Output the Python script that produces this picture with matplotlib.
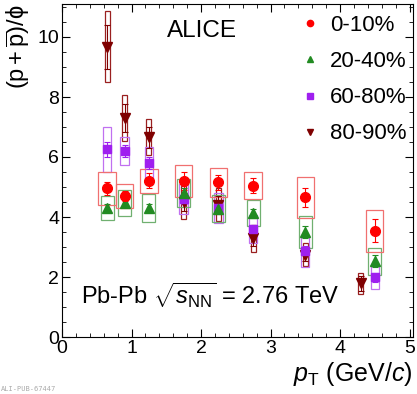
import numpy as np
import matplotlib
matplotlib.use("Agg")
import matplotlib.pyplot as plt
from matplotlib.lines import Line2D
from matplotlib.ticker import MultipleLocator

plt.rcParams['font.family'] = ['Liberation Sans', 'DejaVu Sans']
plt.rcParams['mathtext.fontset'] = 'custom'
plt.rcParams['mathtext.rm'] = 'Liberation Sans'
plt.rcParams['mathtext.it'] = 'Liberation Sans:italic'
plt.rcParams['mathtext.bf'] = 'Liberation Sans:bold'

# data
pt = [0.65, 0.9, 1.25, 1.75, 2.25, 2.75, 3.5, 4.5]
pt_8090 = [0.65, 0.9, 1.25, 1.75, 2.25, 2.75, 3.5, 4.3]

r_0010 = [4.95, 4.7, 5.2, 5.2, 5.15, 5.05, 4.65, 3.55]
stat_0010 = [0.22, 0.17, 0.25, 0.3, 0.25, 0.25, 0.32, 0.38]
sys_0010 = [0.55, 0.4, 0.4, 0.53, 0.48, 0.45, 0.67, 0.7]

r_2040 = [4.3, 4.47, 4.3, 4.8, 4.27, 4.13, 3.5, 2.53]
stat_2040 = [0.12, 0.12, 0.12, 0.15, 0.15, 0.15, 0.2, 0.2]
sys_2040 = [0.4, 0.43, 0.48, 0.47, 0.45, 0.42, 0.52, 0.45]

r_6080 = [6.25, 6.2, 5.8, 4.6, 4.3, 3.6, 2.87, 2.0]
stat_6080 = [0.25, 0.2, 0.2, 0.15, 0.15, 0.15, 0.15, 0.15]
sys_6080 = [0.75, 0.48, 0.52, 0.5, 0.5, 0.45, 0.53, 0.4]

r_8090 = [9.67, 7.3, 6.65, 4.5, 4.4, 3.3, 2.75, 1.8]
stat_8090 = [0.72, 0.45, 0.35, 0.3, 0.3, 0.25, 0.2, 0.25]
sys_8090 = [1.18, 0.77, 0.6, 0.55, 0.55, 0.45, 0.37, 0.35]

labels = ["0-10%", "20-40%", "60-80%", "80-90%"]

fig = plt.figure(figsize=(4.17, 3.94), dpi=100)
ax = fig.add_axes([62/417, 57/394, 351/417, 333/394])

# (x, y, stat, sys, colour, box colour, marker, size, box half width)
series = [
    (pt_8090, r_8090, stat_8090, sys_8090, '#7f0000', '#9a2020', 'v', 6.5, 0.035),
    (pt, r_6080, stat_6080, sys_6080, '#9f1fef', '#c070f0', 's', 6, 0.06),
    (pt, r_2040, stat_2040, sys_2040, '#228b22', '#70b070', '^', 6.5, 0.095),
    (pt, r_0010, stat_0010, sys_0010, '#ff0000', '#f07070', 'o', 7, 0.125),
]

for x, y, st, sy, c, bc, m, ms, hw in series:
    x = np.array(x)
    y = np.array(y)
    sy = np.array(sy)
    ax.bar(x, 2*sy, width=2*hw, bottom=y-sy, fill=False, edgecolor=bc, linewidth=0.9)
    ax.errorbar(x, y, yerr=st, fmt=m, color=c, ms=ms, capsize=2.5, elinewidth=0.8, capthick=0.8)

ax.set_xlim(0, 5.05)
ax.set_ylim(0, 11.1)
ax.xaxis.set_major_locator(MultipleLocator(1))
ax.xaxis.set_minor_locator(MultipleLocator(0.2))
ax.yaxis.set_major_locator(MultipleLocator(2))
ax.yaxis.set_minor_locator(MultipleLocator(0.5))
ax.tick_params(which='both', direction='in', top=True, right=True, labelsize=14, pad=2)
ax.tick_params(which='major', length=6)
ax.tick_params(which='minor', length=3)

ax.set_xlabel(r'$p_{\mathrm{T}}$ (GeV/$c$)', fontsize=18, loc='right', labelpad=2)
ax.set_ylabel(r'$\mathrm{(p+\overline{p})/\phi}$', fontsize=17, loc='top', labelpad=4)

ax.text(0.3, 0.9, 'ALICE', transform=ax.transAxes, fontsize=17.5)
ax.text(0.055, 0.1, r'Pb-Pb $\sqrt{s_{\mathrm{NN}}}$ = 2.76 TeV', transform=ax.transAxes, fontsize=17)

handles = [
    Line2D([], [], ls='none', marker='o', color='#ff0000', ms=4.5),
    Line2D([], [], ls='none', marker='^', color='#228b22', ms=4.5),
    Line2D([], [], ls='none', marker='s', color='#9f1fef', ms=4.5),
    Line2D([], [], ls='none', marker='v', color='#7f0000', ms=4.5),
]
ax.legend(handles, labels, loc='upper left', bbox_to_anchor=(292/417, 1 - 4/394),
          bbox_transform=fig.transFigure, frameon=False, fontsize=16,
          handlelength=0.6, handletextpad=0.6, labelspacing=0.68, borderpad=0)

fig.text(0.002, 0.008, 'ALI-PUB-67447', fontsize=5, color='#aaaaaa', family='DejaVu Sans Mono')

fig.savefig('out.png', dpi=100)
